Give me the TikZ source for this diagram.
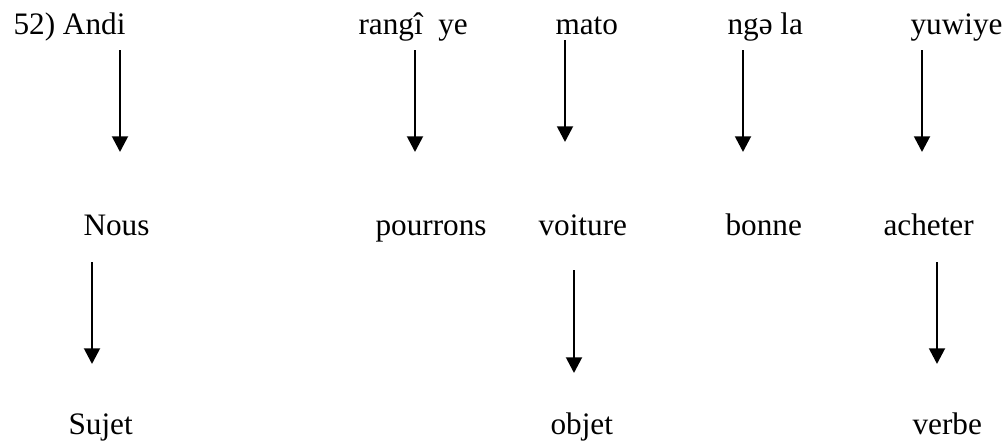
\documentclass[tikz,border=0pt]{standalone}
\usepackage{fontspec}
\setmainfont{Liberation Serif}
\usetikzlibrary{positioning,arrows.meta}

\begin{document}
\begin{tikzpicture}[x=0.4pt,y=-0.4pt,
  word/.style={anchor=base west,inner sep=0pt,font=\fontsize{12.5}{15}\selectfont},
  link/.style={line width=1.1pt,-{Triangle[width=6.3pt,length=6.3pt]}}]
  \useasboundingbox (0,0) rectangle (1006,442);

  % source line
  \node[word] (andi)   at (13,34)  {52) Andi};
  \node[word] (rangi)  at (358,34) {rangî~~ye};
  \node[word] (mato)   at (555,34) {mato};
  \node[word] (ngela)  at (727,34) {ngə la};
  \node[word] (yuwiye) at (910,34) {yuwiye};

  % gloss line
  \node[word] (nous)     at (83,235)  {Nous};
  \node[word] (pourrons) at (375,235) {pourrons};
  \node[word] (voiture)  at (538,235) {voiture};
  \node[word] (bonne)    at (725,235) {bonne};
  \node[word] (acheter)  at (883,235) {acheter};

  % function line
  \node[word] (sujet) at (68,434)  {Sujet};
  \node[word] (objet) at (550,434) {objet};
  \node[word] (verbe) at (912,434) {verbe};

  % arrow ends
  \coordinate (andiT)    at (120,50);  \coordinate (andiB)    at (120,152);
  \coordinate (rangiT)   at (415,50);  \coordinate (rangiB)   at (415,152);
  \coordinate (matoT)    at (565,40);  \coordinate (matoB)    at (565,142);
  \coordinate (ngelaT)   at (743,50);  \coordinate (ngelaB)   at (743,152);
  \coordinate (yuwiyeT)  at (922,50);  \coordinate (yuwiyeB)  at (922,152);
  \coordinate (nousT)    at (92,262);  \coordinate (nousB)    at (92,364);
  \coordinate (voitureT) at (574,270); \coordinate (voitureB) at (574,373);
  \coordinate (acheterT) at (937,262); \coordinate (acheterB) at (937,364);

  \foreach \w in {andi,rangi,mato,ngela,yuwiye,nous,voiture,acheter}
    \draw[link] (\w T) -- (\w B);
\end{tikzpicture}
\end{document}
